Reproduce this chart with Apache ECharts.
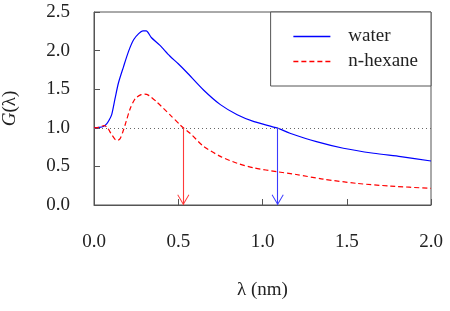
<!DOCTYPE html>
<html>
<head>
<meta charset="utf-8">
<script src="https://cdn.jsdelivr.net/npm/echarts@6/dist/echarts.min.js"></script>
<style>html,body{margin:0;padding:0;background:#fff}#c{width:450px;height:311px}</style>
</head>
<body>
<div id="c"></div>
<script>
var waterX = [0, 0.03, 0.055, 0.075, 0.09, 0.105, 0.125, 0.145, 0.175, 0.205, 0.235, 0.265, 0.29, 0.31, 0.34, 0.39, 0.45, 0.5, 0.55, 0.65, 0.75, 0.85, 0.95, 1.09, 1.163, 1.32, 1.48, 1.66, 1.82, 2.0];
var waterY = [1.0, 1.005, 1.016, 1.05, 1.10, 1.17, 1.38, 1.58, 1.79, 1.99, 2.14, 2.22, 2.255, 2.255, 2.17, 2.07, 1.93, 1.83, 1.72, 1.49, 1.30, 1.17, 1.08, 0.995, 0.93, 0.82, 0.735, 0.67, 0.627, 0.57];
var hexX = [0, 0.03, 0.06, 0.08, 0.1, 0.125, 0.14, 0.155, 0.17, 0.185, 0.215, 0.245, 0.28, 0.3, 0.325, 0.37, 0.45, 0.51, 0.53, 0.57, 0.65, 0.75, 0.85, 0.95, 1.09, 1.2, 1.36, 1.56, 1.76, 2.0];
var hexY = [1.0, 1.005, 1.03, 1.0, 0.93, 0.85, 0.835, 0.86, 0.94, 1.04, 1.25, 1.38, 1.43, 1.435, 1.42, 1.34, 1.17, 1.04, 1.0, 0.93, 0.76, 0.63, 0.54, 0.48, 0.43, 0.395, 0.335, 0.28, 0.245, 0.215];
var arrowX = { water: 1.09, hexane: 0.53 };
var refLevel = 1.0;
var seriesNames = ['water', 'n-hexane'];

function zip(xs, ys) { return xs.map(function (x, i) { return [x, ys[i]]; }); }

var FONT = 'Liberation Serif';
var BLUE = '#0000ff', RED = '#ff0000';
var arrowPath = 'path://M6,0 L12,10 L11.2,10.6 L6,1.8 L0.8,10.6 L0,10 Z M6,-10.3 L6.01,-10.3 L6.01,-10.29 Z';

function arrowLine(x, color) {
  return {
    silent: true,
    symbol: ['none', arrowPath],
    symbolSize: [12, 21],
    label: { show: false },
    itemStyle: { color: color },
    lineStyle: { color: color, width: 1.1, type: 'solid', opacity: 1 },
    data: [[{ coord: [x, refLevel], lineStyle: { color: color } }, { coord: [x, 0] }]]
  };
}

var chart = echarts.init(document.getElementById('c'), null, { renderer: 'canvas' });
chart.setOption({
  animation: false,
  backgroundColor: '#fff',
  textStyle: { fontFamily: FONT },
  grid: { left: 94, right: 19, top: 12, bottom: 106, outerBoundsMode: 'none', containLabel: false, show: true, borderColor: '#555', borderWidth: 1, backgroundColor: 'transparent' },
  legend: {
    data: [
      { name: seriesNames[0], itemStyle: { opacity: 0, borderWidth: 0 }, lineStyle: { color: BLUE, width: 1.5, type: 'solid', opacity: 1 } },
      { name: seriesNames[1], itemStyle: { opacity: 0, borderWidth: 0 }, lineStyle: { color: RED, width: 1.5, type: [5, 3], opacity: 1 } }
    ],
    orient: 'vertical',
    right: 19,
    top: 12,
    padding: [15, 13, 15, 22],
    itemWidth: 37,
    itemHeight: 14,
    itemGap: 6,
    borderColor: '#555',
    borderWidth: 1,
    backgroundColor: '#fff',
    selectedMode: false,
    textStyle: { fontFamily: FONT, fontSize: 19, color: '#222', lineHeight: 18, padding: [0, 0, 0, 13] }
  },
  xAxis: {
    type: 'value', min: 0, max: 2, interval: 0.5,
    name: 'λ (nm)', nameLocation: 'middle', nameGap: 85,
    nameTextStyle: { fontFamily: FONT, fontSize: 19, color: '#222', verticalAlign: 'middle' },
    axisLine: { show: true, lineStyle: { color: '#555', width: 1 } },
    axisTick: { show: true, inside: true, length: 6, lineStyle: { color: '#555' } },
    axisLabel: { margin: 28, fontFamily: FONT, fontSize: 19, color: '#222', formatter: function (v) { return v.toFixed(1); } },
    splitLine: { show: false }
  },
  yAxis: {
    type: 'value', min: 0, max: 2.5, interval: 0.5,
    name: '{i|G}{n|(λ)}', nameLocation: 'middle', nameGap: 84, nameRotate: 90,
    nameTextStyle: { fontFamily: FONT, fontSize: 19, color: '#222', verticalAlign: 'middle',
      rich: { i: { fontFamily: FONT, fontSize: 19, fontStyle: 'italic', color: '#222' }, n: { fontFamily: FONT, fontSize: 19, color: '#222' } } },
    axisLine: { show: true, lineStyle: { color: '#555', width: 1 } },
    axisTick: { show: true, inside: true, length: 6, lineStyle: { color: '#555' } },
    axisLabel: { margin: 24, fontFamily: FONT, fontSize: 19, color: '#222', formatter: function (v) { return v.toFixed(1); } },
    splitLine: { show: false }
  },
  series: [
    {
      name: 'water', type: 'line', data: zip(waterX, waterY), smooth: 0.25, showSymbol: false, symbol: 'none',
      color: BLUE,
      lineStyle: { color: BLUE, width: 1.2 }, itemStyle: { color: BLUE }, z: 3,
      markLine: arrowLine(arrowX.water, '#3a3aff')
    },
    {
      name: 'n-hexane', type: 'line', data: zip(hexX, hexY), smooth: 0.25, showSymbol: false, symbol: 'none',
      color: RED,
      lineStyle: { color: RED, width: 1.2, type: [5, 3] }, itemStyle: { color: RED }, z: 3,
      markLine: arrowLine(arrowX.hexane, '#ff3a3a')
    },
    {
      name: 'ref', type: 'line', data: [], silent: true,
      markLine: {
        silent: true, symbol: ['none', 'none'], label: { show: false },
        lineStyle: { color: '#666', width: 1, type: [1, 3] },
        data: [{ yAxis: refLevel }]
      }
    }
  ]
});
</script>
</body>
</html>
